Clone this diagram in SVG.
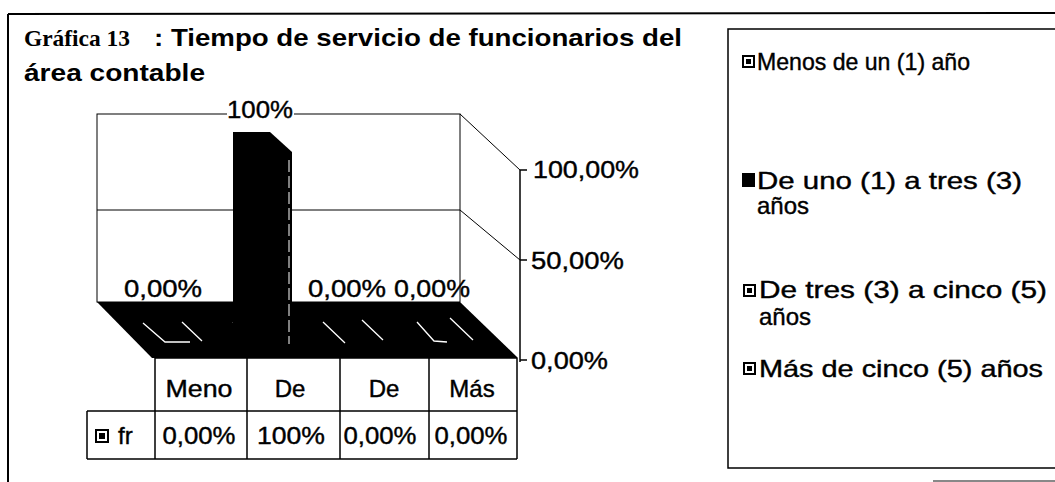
<svg xmlns="http://www.w3.org/2000/svg" width="1055" height="482" viewBox="0 0 1055 482">
<style>
.t{font-family:"Liberation Sans",Arial,sans-serif;font-size:24px;fill:#000;stroke:#000;stroke-width:0.4}
.tb{font-family:"Liberation Sans",Arial,sans-serif;font-size:24px;font-weight:bold;fill:#000}
.ts{font-family:"Liberation Serif","Times New Roman",serif;font-size:23px;font-weight:bold;fill:#000}
.ln{stroke:#000;stroke-width:1.5;fill:none}
.thin{stroke:#000;stroke-width:1;fill:none}
.wl{stroke:#fff;stroke-width:1.3;fill:none}
.mk{fill:#fff;stroke:#000;stroke-width:2}
.c{text-anchor:middle}
</style>
<rect width="1055" height="482" fill="#fff"/>
<g id="frame">
<line x1="8" y1="14" x2="1055" y2="13" stroke="#000" stroke-width="2"/>
<line x1="8" y1="14" x2="8" y2="482" stroke="#000" stroke-width="2"/>
<line x1="933" y1="481" x2="1055" y2="481" stroke="#888" stroke-width="2"/>
</g>
<g id="title">
<text class="ts" x="24" y="46" textLength="106" lengthAdjust="spacingAndGlyphs">Gráfica 13</text>
<text class="tb" x="154" y="46" textLength="528" lengthAdjust="spacingAndGlyphs">: Tiempo de servicio de funcionarios del</text>
<text class="tb" x="24" y="81" textLength="181" lengthAdjust="spacingAndGlyphs">área contable</text>
</g>
<g id="plot">
<rect x="97" y="114" width="363" height="188" fill="#fff" class="thin"/>
<line class="thin" x1="97" y1="210" x2="460" y2="210"/>
<line class="thin" x1="460" y1="114" x2="520" y2="170"/>
<line class="thin" x1="460" y1="210" x2="520" y2="260"/>
<polygon points="97,302 460,302 518,358 152,358" fill="#000"/>
<path class="wl" d="M143 323 L165 342 L190 342 M182 322 L202 341 M233 322 L253 342 M323 322 L345 343 M362 320 L383 340 M417 322 L434 341 L447 342 M450 318 L473 340"/>
</g>
<g id="bar">
<polygon points="233,132 270,132 292,152 292,345 233,345" fill="#000"/>
<line x1="289" y1="160" x2="289" y2="344" stroke="#fff" stroke-width="1" stroke-dasharray="12,4"/>
</g>
<g id="datalabels">
<rect x="227" y="100" width="67" height="15" fill="#fff"/>
<text class="t c" x="260" y="118" textLength="66" lengthAdjust="spacingAndGlyphs">100%</text>
<text class="t c" x="163" y="297" textLength="78" lengthAdjust="spacingAndGlyphs">0,00%</text>
<text class="t c" x="347" y="297" textLength="78" lengthAdjust="spacingAndGlyphs">0,00%</text>
<text class="t c" x="432" y="297" textLength="76" lengthAdjust="spacingAndGlyphs">0,00%</text>
</g>
<g id="axis">
<line class="ln" x1="520" y1="170" x2="520" y2="362"/>
<line class="ln" x1="520" y1="170" x2="527" y2="170"/>
<line class="ln" x1="520" y1="260" x2="527" y2="260"/>
<line class="ln" x1="520" y1="360" x2="527" y2="360"/>
<text class="t" x="533" y="178" textLength="106" lengthAdjust="spacingAndGlyphs">100,00%</text>
<text class="t" x="531" y="269" textLength="93" lengthAdjust="spacingAndGlyphs">50,00%</text>
<text class="t" x="531" y="369" textLength="77" lengthAdjust="spacingAndGlyphs">0,00%</text>
</g>
<g id="table">
<path class="ln" d="M155 358 L517 358 M155 358 L155 459 M247 358 L247 459 M340 358 L340 459 M429 358 L429 459 M517 358 L517 459 M87 411 L517 411 M87 411 L87 459 M87 459 L517 459"/>
<text class="t c" x="199" y="397" textLength="67" lengthAdjust="spacingAndGlyphs">Meno</text>
<text class="t c" x="290" y="397">De</text>
<text class="t c" x="384" y="397">De</text>
<text class="t c" x="472" y="397">Más</text>
<rect class="mk" x="96" y="430" width="12" height="12"/>
<rect x="99" y="433" width="6" height="6" fill="#000"/>
<text class="t" x="118" y="444">fr</text>
<text class="t c" x="199" y="444" textLength="73" lengthAdjust="spacingAndGlyphs">0,00%</text>
<text class="t c" x="291" y="444" textLength="68" lengthAdjust="spacingAndGlyphs">100%</text>
<text class="t c" x="380" y="444" textLength="73" lengthAdjust="spacingAndGlyphs">0,00%</text>
<text class="t c" x="471" y="444" textLength="73" lengthAdjust="spacingAndGlyphs">0,00%</text>
</g>
<g id="legend">
<path class="ln" d="M1056 29 L728 29 L728 468 L1056 468"/>
<rect class="mk" x="743" y="56" width="11" height="11"/>
<rect x="746" y="59" width="5" height="5" fill="#000"/>
<text class="t" x="757" y="70" textLength="213" lengthAdjust="spacingAndGlyphs">Menos de un (1) año</text>
<rect x="742" y="173" width="13" height="14" fill="#000"/>
<text class="t" x="757" y="189" textLength="265" lengthAdjust="spacingAndGlyphs">De uno (1) a tres (3)</text>
<text class="t" x="757" y="214">años</text>
<rect class="mk" x="744" y="285" width="11" height="11"/>
<rect x="747" y="288" width="5" height="5" fill="#000"/>
<text class="t" x="759" y="298" textLength="288" lengthAdjust="spacingAndGlyphs">De tres (3) a cinco (5)</text>
<text class="t" x="759" y="325">años</text>
<rect class="mk" x="744" y="363" width="11" height="11"/>
<rect x="747" y="366" width="5" height="5" fill="#000"/>
<text class="t" x="759" y="377" textLength="284" lengthAdjust="spacingAndGlyphs">Más de cinco (5) años</text>
</g>
</svg>
